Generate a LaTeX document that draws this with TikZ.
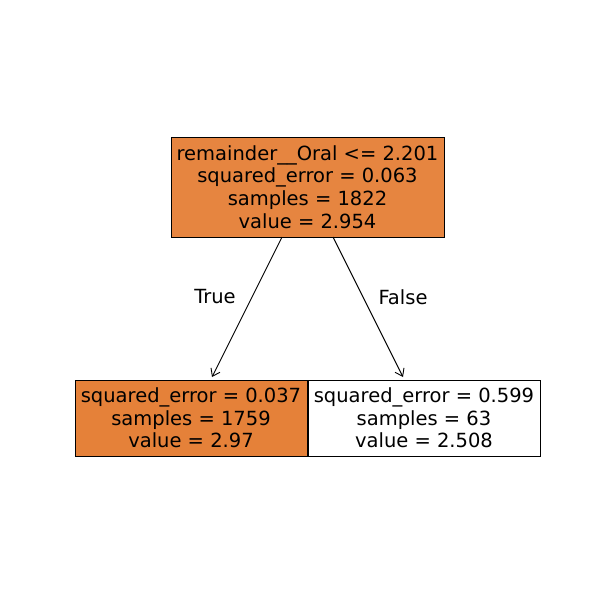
\documentclass[tikz,border=0pt]{standalone}
\usepackage{fontspec}
\setmainfont{DejaVu Sans}
\usetikzlibrary{arrows.meta}
\definecolor{rootfill}{RGB}{230,133,64}
\definecolor{leaffill}{RGB}{229,129,57}
\tikzset{
  treebox/.style={draw=black, line width=0.9pt, align=center, inner sep=0pt,
    font=\fontsize{19.5}{22.7}\selectfont},
  edge/.style={line width=0.9pt, -{Straight Barb[length=7pt,width=10pt,line width=0.9pt]}},
  lbl/.style={font=\fontsize{19.5}{22.7}\selectfont}
}
\begin{document}
\begin{tikzpicture}[x=1pt,y=-1pt]
\useasboundingbox (0,0) rectangle (600,600);
\fill[white] (0,0) rectangle (600,600);
\node[treebox, fill=rootfill, minimum width=273pt, minimum height=100pt] (root) at (307.5,187)
  {remainder\_\_Oral <= 2.201\\squared\_error = 0.063\\samples = 1822\\value = 2.954};
\node[treebox, fill=leaffill, minimum width=232pt, minimum height=76pt] (left) at (191,418)
  {squared\_error = 0.037\\samples = 1759\\value = 2.97};
\node[treebox, fill=white, minimum width=232pt, minimum height=76pt] (right) at (424,418)
  {squared\_error = 0.599\\samples = 63\\value = 2.508};
\coordinate (a1) at (282,237);
\coordinate (a2) at (212,377);
\coordinate (b1) at (333,237);
\coordinate (b2) at (403,377);
\draw[edge] (a1) -- (a2);
\draw[edge] (b1) -- (b2);
\node[lbl] (t) at (215,297) {True};
\node[lbl] (f) at (403,297) {False};
\end{tikzpicture}
\end{document}
